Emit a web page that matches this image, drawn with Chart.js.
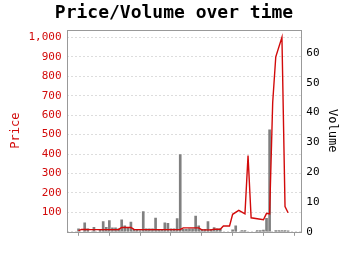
<!DOCTYPE html>
<html>
<head>
<meta charset="utf-8">
<script src="https://cdn.jsdelivr.net/npm/chart.js@4/dist/chart.umd.min.js"></script>
<style>
html,body{margin:0;padding:0;background:#fff;}
#wrap{width:350px;height:255px;}
</style>
</head>
<body>
<div id="wrap"><canvas id="c" width="350" height="255"></canvas></div>
<script>
const priceDays = [0,1,2,4,6,8,10,12,13,14,15,16,17,18,20,22,24,26,28,30,32,33,34,35,36,37,38,39,40,41,42,43,44,45,46,47,49,50,52,54,55,56,58,60,61,62,63,64,66,67,68];
const prices    = [6,12,12,11,11,11,11,11,12,22,23,22,22,12,11,11,11,11,11,11,11,12,20,20,20,20,20,20,10,10,10,10,13,13,13,30,30,90,110,92,392,72,67,62,95,92,665,900,1000,130,98];
const volumeDays = [0,2,3,5,7,8,9,10,11,12,13,14,15,16,17,18,19,20,21,22,23,24,25,26,27,28,29,30,31,32,33,34,35,36,37,38,39,40,41,42,43,44,45,46,50,51,53,54,58,59,60,61,62,64,65,66,67,68];
const volumes    = [1,3,1,1.5,0.5,3.4,1.5,3.8,1.3,1.3,1,4,2,1.2,3.3,0.8,0.5,0.4,6.8,1,1,1,4.6,0.8,0.8,3,2.8,1,1,4.4,25.9,0.8,0.8,1,1,5.3,2,0.8,0.8,3.4,0.8,1.4,1,1,0.7,2,0.4,0.4,0.4,0.4,0.6,4.5,34.2,0.4,0.4,0.4,0.4,0.3];
const xTicks = [0,10,20,30,40,50,60,70];

const mono = "'DejaVu Sans Mono', monospace";
const red = 'rgb(210,10,10)';

const boxPlugin = {
  id: 'box',
  afterDatasetsDraw(chart){
    const a = chart.chartArea, ctx = chart.ctx;
    ctx.save();
    ctx.strokeStyle = '#999';
    ctx.lineWidth = 1;
    ctx.strokeRect(Math.round(a.left)+0.5, Math.round(a.top)+0.5, Math.round(a.right-a.left)-1, Math.round(a.bottom-a.top));
    ctx.restore();
  }
};

new Chart(document.getElementById('c'), {
  type: 'bar',
  data: {
    datasets: [
      {
        type: 'line',
        label: 'Price',
        data: priceDays.map((d,i)=>({x:d,y:prices[i]})),
        borderColor: red,
        borderWidth: 1.4,
        pointRadius: 0,
        tension: 0,
        yAxisID: 'yPrice',
        order: 0
      },
      {
        type: 'bar',
        label: 'Volume',
        data: volumeDays.map((d,i)=>({x:d,y:volumes[i]})),
        backgroundColor: 'rgb(128,128,128)',
        barThickness: 2,
        yAxisID: 'yVol',
        order: 1
      }
    ]
  },
  options: {
    responsive: false,
    animation: false,
    devicePixelRatio: 1,
    layout: { padding: { left: 9, right: 11, top: 0, bottom: 0 } },
    plugins: {
      legend: { display: false },
      tooltip: { enabled: false },
      title: {
        display: true,
        text: 'Price/Volume over time',
        color: '#000',
        font: { family: mono, size: 18, weight: 'bold' },
        padding: { top: 3, bottom: 5 }
      }
    },
    scales: {
      x: {
        type: 'linear',
        offset: false,
        min: -3.9,
        max: 72.3,
        afterBuildTicks(scale){ scale.ticks = xTicks.map(v=>({value:v})); },
        ticks: { callback: () => '', font: { family: mono, size: 11 } },
        grid: { drawOnChartArea: false, drawTicks: true, tickLength: 4, color: '#999', offset: false },
        border: { display: false }
      },
      yPrice: {
        type: 'linear',
        position: 'left',
        min: 0,
        max: 1040,
        afterBuildTicks(scale){ const t=[]; for(let v=0; v<=1000; v+=100) t.push({value:v}); scale.ticks=t; },
        ticks: {
          color: red,
          font: { family: mono, size: 11 },
          padding: 5,
          callback: (v) => v === 0 ? '' : v.toLocaleString('en-US')
        },
        grid: { color: '#ddd', drawTicks: false },
        border: { display: false, dash: [2,2] },
        title: { display: true, text: 'Price', color: red, font: { family: mono, size: 12 }, padding: { top: 0, bottom: 0 } }
      },
      yVol: {
        type: 'linear',
        position: 'right',
        min: 0,
        max: 67.8,
        afterBuildTicks(scale){ const t=[]; for(let v=0; v<=60; v+=10) t.push({value:v}); scale.ticks=t; },
        ticks: { color: '#000', font: { family: mono, size: 11 }, padding: 5 },
        grid: { drawOnChartArea: false, drawTicks: false },
        border: { display: false },
        title: { display: true, text: 'Volume', color: '#000', font: { family: mono, size: 12 }, padding: { top: 0, bottom: 0 } }
      }
    }
  },
  plugins: [boxPlugin]
});
</script>
</body>
</html>
